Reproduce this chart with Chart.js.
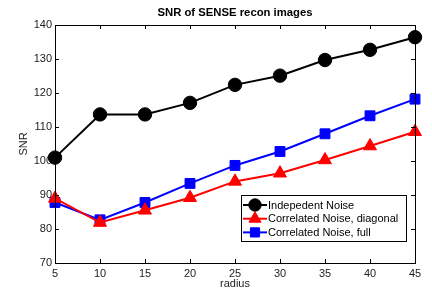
<!DOCTYPE html>
<html>
<head>
<meta charset="utf-8">
<script src="https://cdn.jsdelivr.net/npm/chart.js@4.4.1/dist/chart.umd.min.js"></script>
<style>
  html, body { margin: 0; padding: 0; background: #fff; }
  #wrap { width: 432px; height: 289px; }
</style>
</head>
<body>
<div id="wrap"><canvas id="myChart" width="432" height="289"></canvas></div>
<script>
// values
var radius = [5, 10, 15, 20, 25, 30, 35, 40, 45];
var indepNoise = [101.0, 113.7, 113.7, 117.1, 122.4, 125.1, 129.7, 132.7, 136.4];
var corrDiag = [89.0, 81.9, 85.5, 89.2, 94.0, 96.4, 100.3, 104.4, 108.6];
var corrFull = [87.8, 82.7, 87.8, 93.4, 98.7, 102.8, 108.0, 113.3, 118.2];

var seriesLabels = ["Indepedent Noise", "Correlated Noise, diagonal", "Correlated Noise, full"];
var titleText = "SNR of SENSE recon images";

var FONT = "'Liberation Sans', Arial, sans-serif";

function pts(ys) {
  return radius.map(function(r, i) { return {x: r, y: ys[i]}; });
}

// frame box with inward ticks, title and legend (matlab look)
var matlabBits = {
  id: 'matlabBits',
  afterDatasetsDraw: function(chart) {
    var ctx = chart.ctx, a = chart.chartArea;
    var xs = chart.scales.x, ys = chart.scales.y;
    ctx.save();
    ctx.strokeStyle = '#000';
    ctx.lineWidth = 1;
    ctx.strokeRect(Math.round(a.left) + 0.5, Math.round(a.top) + 0.5,
      Math.round(a.right - a.left), Math.round(a.bottom - a.top));
    ctx.beginPath();
    xs.ticks.forEach(function(t) {
      var px = Math.round(xs.getPixelForValue(t.value)) + 0.5;
      ctx.moveTo(px, a.bottom); ctx.lineTo(px, a.bottom - 4);
      ctx.moveTo(px, a.top); ctx.lineTo(px, a.top + 4);
    });
    ys.ticks.forEach(function(t) {
      var py = Math.round(ys.getPixelForValue(t.value)) + 0.5;
      ctx.moveTo(a.left, py); ctx.lineTo(a.left + 4, py);
      ctx.moveTo(a.right, py); ctx.lineTo(a.right - 4, py);
    });
    ctx.stroke();

    // title
    ctx.fillStyle = '#000';
    ctx.font = 'bold 11.3px ' + FONT;
    ctx.textAlign = 'center';
    ctx.textBaseline = 'middle';
    ctx.fillText(titleText, (a.left + a.right) / 2, 13);

    // legend
    var lx = 241, ly = 195, lw = 165, lh = 46;
    ctx.fillStyle = '#fff';
    ctx.fillRect(lx, ly, lw, lh);
    ctx.strokeStyle = '#000';
    ctx.strokeRect(lx + 0.5, ly + 0.5, lw, lh);
    ctx.font = '11px ' + FONT;
    ctx.textAlign = 'left';
    chart.data.datasets.forEach(function(ds, i) {
      var cy = ly + 10 + i * 13.7;
      ctx.strokeStyle = ds.borderColor;
      ctx.lineWidth = 2;
      ctx.beginPath();
      ctx.moveTo(lx + 2, cy); ctx.lineTo(lx + 26, cy);
      ctx.stroke();
      ctx.fillStyle = ds.pointBackgroundColor;
      ctx.strokeStyle = ds.borderColor;
      ctx.lineWidth = 1;
      Chart.helpers.drawPoint(ctx, {pointStyle: ds.pointStyle, radius: ds.pointRadius - 0.5, borderWidth: 1}, lx + 14, cy);
      ctx.fillStyle = '#000';
      ctx.fillText(ds.label, lx + 27, cy + 0.5);
    });
    ctx.restore();
  }
};

new Chart(document.getElementById('myChart'), {
  type: 'line',
  data: {
    datasets: [{
      label: seriesLabels[0],
      data: pts(indepNoise),
      borderColor: '#000',
      backgroundColor: '#000',
      pointBackgroundColor: '#000',
      pointStyle: 'circle',
      pointRadius: 6.7
    }, {
      label: seriesLabels[1],
      data: pts(corrDiag),
      borderColor: '#ff0000',
      backgroundColor: '#ff0000',
      pointBackgroundColor: '#ff0000',
      pointStyle: 'triangle',
      pointRadius: 7.5
    }, {
      label: seriesLabels[2],
      data: pts(corrFull),
      borderColor: '#0000ff',
      backgroundColor: '#0000ff',
      pointBackgroundColor: '#0000ff',
      pointStyle: 'rect',
      pointRadius: 7
    }]
  },
  options: {
    responsive: false,
    animation: false,
    layout: { padding: { top: 25, right: 17, left: 0, bottom: 0 } },
    elements: {
      line: { borderWidth: 2, tension: 0, fill: false },
      point: { borderWidth: 1, hoverRadius: 6 }
    },
    datasets: { line: { clip: false } },
    plugins: {
      legend: { display: false },
      title: { display: false },
      tooltip: { enabled: false }
    },
    scales: {
      x: {
        type: 'linear',
        min: 5, max: 45,
        border: { display: false },
        grid: { display: false, drawTicks: false },
        ticks: { stepSize: 5, color: '#222', padding: 4, font: { family: FONT, size: 11 } },
        title: { display: true, text: 'radius', color: '#222', padding: { top: 0, bottom: -1.5 }, font: { family: FONT, size: 11 } },
        afterFit: function(s) { s.height = 26; }
      },
      y: {
        min: 70, max: 140,
        border: { display: false },
        grid: { display: false, drawTicks: false },
        ticks: { stepSize: 10, color: '#222', padding: 3, font: { family: FONT, size: 11 } },
        title: { display: true, text: 'SNR', color: '#222', padding: { top: 17, bottom: 0 }, font: { family: FONT, size: 11 } },
        afterFit: function(s) { s.width = 55; }
      }
    }
  },
  plugins: [matlabBits]
});
</script>
</body>
</html>
